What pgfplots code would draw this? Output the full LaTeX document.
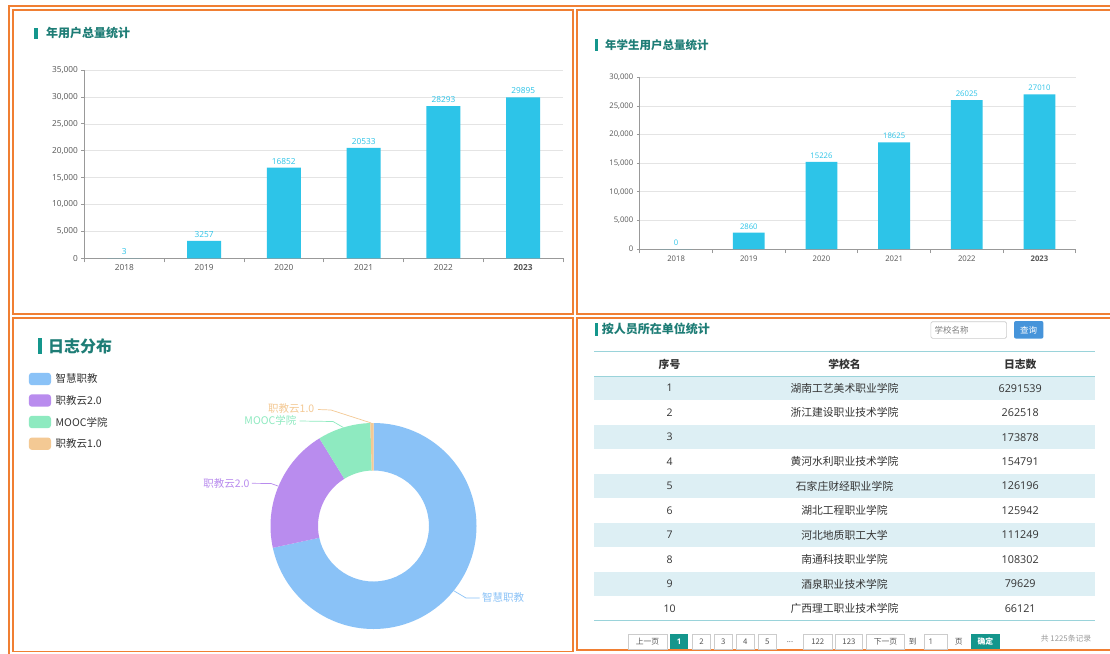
\documentclass[border=0pt]{standalone}
\usepackage{pgfplots}
\pgfplotsset{compat=1.18}
\usepackage{fontspec}
\setmainfont{Open Sans}
\newfontfamily\cjk{Noto Sans CJK SC}
\definecolor{framec}{HTML}{F07F33}
\definecolor{barc}{HTML}{2DC4E8}
\definecolor{tealbar}{HTML}{14968C}
\definecolor{titlec}{HTML}{1E7D76}
\definecolor{gridc}{HTML}{E4E4E4}
\definecolor{axisc}{HTML}{999999}
\definecolor{tickc}{HTML}{555555}
\definecolor{cA}{HTML}{8AC2F7}
\definecolor{cB}{HTML}{B98CEE}
\definecolor{cC}{HTML}{8EEAC0}
\definecolor{cD}{HTML}{F4C994}
\definecolor{rowc}{HTML}{DDEFF4}
\definecolor{linec}{HTML}{9AD3DA}
\definecolor{btnc}{HTML}{4694DA}
\definecolor{txtc}{HTML}{333333}
\definecolor{pagec}{HTML}{CCCCCC}
\newcommand\fs[1]{\fontsize{#1}{#1}\selectfont}

\pgfplotsset{
  barchart/.style 2 args={
    scale only axis, anchor=south west,
    ybar, bar width=#1,
    xmin=-0.5, xmax=5.5, ymin=0,
    xtick={0,...,5},
    xticklabels={2018,2019,2020,2021,2022,\textbf{2023}},
    minor xtick={-0.5,0.5,...,5.5},
    axis x line*=bottom, axis y line*=left,
    x axis line style={-}, y axis line style={-},
    axis line style={axisc, line width=0.8pt},
    tick align=outside,
    major tick length=3pt, minor tick length=4pt,
    major x tick style={draw=none},
    minor x tick style={axisc, line width=0.7pt},
    ytick style={axisc, line width=0.7pt},
    ymajorgrids, grid style={gridc, line width=0.6pt},
    scaled y ticks=false,
    /pgf/number format/assume math mode=true,
    tick label style={color=tickc, font=\fs{#2}},
    nodes near coords={\pgfmathprintnumber[1000 sep={}]{\pgfplotspointmeta}},
    every node near coord/.append style={color=barc, font=\fs{#2}},
  }
}

% donut values (percent)
\def\vA{71.6}\def\vB{19.6}\def\vC{8.3}\def\vD{0.5}

\begin{document}
\begin{tikzpicture}
\useasboundingbox (0pt,0pt) rectangle (1110pt,-653pt);
\fill[white] (0pt,0pt) rectangle (1110pt,-653pt);

% ---------- top-left bar chart ----------
\begin{axis}[barchart={34pt}{8.3}, at={(84.4pt,-258.3pt)},
  width=478.7pt, height=188.3pt, ymax=35000, ytick={0,5000,...,35000}]
\addplot[fill=barc, draw=none] coordinates {(0,3) (1,3257) (2,16852) (3,20533) (4,28293) (5,29895)};
\end{axis}

% ---------- top-right bar chart ----------
\begin{axis}[barchart={31.8pt}{7.7}, at={(639.8pt,-249pt)},
  width=436pt, height=171.7pt, ymax=30000, ytick={0,5000,...,30000}]
\addplot[fill=barc, draw=none] coordinates {(0,0) (1,2860) (2,15226) (3,18625) (4,26025) (5,27010)};
\end{axis}

% ---------- donut ----------
\pgfmathsetmacro\aA{90}
\pgfmathsetmacro\aB{\aA-3.6*\vA}
\pgfmathsetmacro\aC{\aB-3.6*\vB}
\pgfmathsetmacro\aD{\aC-3.6*\vC}
\pgfmathsetmacro\aE{\aD-3.6*\vD}
\begin{axis}[scale only axis, hide axis, anchor=center, at={(373.5pt,-526pt)},
  width=206pt, height=206pt, xmin=-1, xmax=1, ymin=-1, ymax=1]
\coordinate (dc) at (axis cs:0,0);
\fill[cA] ([shift={(\aA:103pt)}]dc) arc[start angle=\aA, end angle=\aB, radius=103pt]
   -- ([shift={(\aB:55.5pt)}]dc) arc[start angle=\aB, end angle=\aA, radius=55.5pt] -- cycle;
\fill[cB] ([shift={(\aB:103pt)}]dc) arc[start angle=\aB, end angle=\aC, radius=103pt]
   -- ([shift={(\aC:55.5pt)}]dc) arc[start angle=\aC, end angle=\aB, radius=55.5pt] -- cycle;
\fill[cC] ([shift={(\aC:103pt)}]dc) arc[start angle=\aC, end angle=\aD, radius=103pt]
   -- ([shift={(\aD:55.5pt)}]dc) arc[start angle=\aD, end angle=\aC, radius=55.5pt] -- cycle;
\fill[cD] ([shift={(\aD:103pt)}]dc) arc[start angle=\aD, end angle=\aE, radius=103pt]
   -- ([shift={(\aE:55.5pt)}]dc) arc[start angle=\aE, end angle=\aD, radius=55.5pt] -- cycle;
\end{axis}

\begin{scope}[x=1pt,y=-1pt]
% ---------- frames ----------
\draw[framec, line width=2.2pt] (9.3,670) -- (9.3,5.7) -- (1130,5.7);
\draw[framec, line width=1.8pt] (13.3,10) rectangle (573.3,314);
\draw[framec, line width=1.8pt] (577.3,10) rectangle (1130,314);
\draw[framec, line width=1.8pt] (13.3,318) rectangle (573.3,651.5);
\draw[framec, line width=1.8pt] (577.3,318) rectangle (1130,649.8);

% ---------- titles ----------
\fill[tealbar] (34.3,27.5) rectangle (37.5,39.3);
\node[anchor=west, text=titlec, font=\cjk\bfseries\fs{12}, inner sep=0] at (46,33) {年用户总量统计};
\fill[tealbar] (594.6,39.3) rectangle (597.8,51);
\node[anchor=west, text=titlec, font=\cjk\bfseries\fs{11.5}, inner sep=0] at (605,45) {年学生用户总量统计};
\fill[tealbar] (37.5,338) rectangle (41.5,354);
\node[anchor=west, text=titlec, font=\cjk\bfseries\fs{16}, inner sep=0] at (48,346.5) {日志分布};
\fill[tealbar] (594.6,322.5) rectangle (597.8,335.5);
\node[anchor=west, text=titlec, font=\cjk\bfseries\fs{12}, inner sep=0] at (601.6,329) {按人员所在单位统计};

% ---------- donut legend ----------
\foreach \c/\t/\y in {cA/智慧职教/379, cB/职教云2.0/400.5, cC/MOOC学院/422, cD/职教云1.0/443.7}{
  \fill[\c, rounded corners=3pt] (28.9,\y-6.2) rectangle (51,\y+6.2);
  \node[anchor=west, text=txtc, font=\cjk\fs{10.5}, inner sep=0] at (55.5,\y) {\t};
}
% ---------- donut labels ----------
\draw[cA, line width=0.7pt] (453.7,590.7) -- (466,598) -- (479.5,598);
\node[anchor=west, text=cA, font=\cjk\fs{10.5}, inner sep=0] at (482,598) {智慧职教};
\draw[cB, line width=0.7pt] (278,486) -- (271,483.5) -- (251.8,483.3);
\node[anchor=east, text=cB, font=\cjk\fs{10.5}, inner sep=0] at (249.7,483.3) {职教云2.0};
\draw[cC, line width=0.7pt] (343.4,427.5) -- (333,421.5) -- (299.7,421);
\node[anchor=east, text=cC, font=\cjk\fs{10.5}, inner sep=0] at (296.5,420.5) {MOOC学院};
\draw[cD, line width=0.7pt] (371.3,423) -- (331,410) -- (318,409.5);
\node[anchor=east, text=cD, font=\cjk\fs{10.5}, inner sep=0] at (314.5,409) {职教云1.0};

% ---------- search ----------
\draw[pagec, line width=0.6pt, fill=white, rounded corners=1.5pt] (930.9,321.7) rectangle (1006.6,338.3);
\node[anchor=west, text=gray, font=\cjk\fs{8.5}, inner sep=0] at (934.3,330) {学校名称};
\fill[btnc, rounded corners=2pt] (1014,321) rectangle (1043.4,338.6);
\node[text=white, font=\cjk\fs{8.5}, inner sep=0] at (1028.7,329.8) {查询};

% ---------- table ----------
\foreach \i in {1,3,5,7,9}{
  \fill[rowc] (594.4,{376+(\i-1)*24.47}) rectangle (1095.3,{376+\i*24.47});
}
\draw[linec, line width=1pt] (594.4,351.7) -- (1095.3,351.7);
\draw[linec, line width=1pt] (594.4,376) -- (1095.3,376);
\draw[linec, line width=1pt] (594.4,620.7) -- (1095.3,620.7);
\node[text=txtc, font=\cjk\bfseries\fs{10.8}, inner sep=0] at (669.5,364.3) {序号};
\node[text=txtc, font=\cjk\bfseries\fs{10.8}, inner sep=0] at (844.5,364.3) {学校名};
\node[text=txtc, font=\cjk\bfseries\fs{10.8}, inner sep=0] at (1020.2,364.3) {日志数};
\foreach \i/\s/\n in {1/湖南工艺美术职业学院/6291539, 2/浙江建设职业技术学院/262518, 3/{}/173878,
  4/黄河水利职业技术学院/154791, 5/石家庄财经职业学院/126196, 6/湖北工程职业学院/125942,
  7/河北地质职工大学/111249, 8/南通科技职业学院/108302, 9/酒泉职业技术学院/79629,
  10/广西理工职业技术学院/66121}{
  \node[text=txtc, font=\fs{10.5}, inner sep=0] at (669.5,{376+(\i-0.5)*24.47}) {\i};
  \node[text=txtc, font=\cjk\fs{10.8}, inner sep=0] at (844.5,{376+(\i-0.5)*24.47}) {\s};
  \node[text=txtc, font=\fs{10.8}, inner sep=0] at (1020.2,{376+(\i-0.5)*24.47}) {\n};
}

% ---------- pagination ----------
\foreach \a/\b/\t in {627.9/667.1/上一页, 692.7/710.4/2, 714.5/732.3/3, 736.4/754.1/4,
   758.2/776.3/5, 802.9/832.6/122, 835.3/862.6/123, 866.7/904.2/下一页}{
  \draw[pagec, line width=0.6pt] (\a,634.3) rectangle (\b,649.3);
  \node[text=tickc, font=\cjk\fs{7.8}, inner sep=0] at ({(\a+\b)/2},641.8) {\t};
}
\fill[tealbar] (669.8,634.3) rectangle (688.3,649.3);
\node[text=white, font=\bfseries\fs{7.8}, inner sep=0] at (679,641.8) {1};
\node[text=tickc, font=\fs{7.8}, inner sep=0] at (790,641.8) {...};
\node[text=tickc, font=\cjk\fs{7.8}, inner sep=0] at (912.8,641.8) {到};
\draw[pagec, line width=0.6pt] (924,634.3) rectangle (946.9,649.3);
\node[anchor=west, text=tickc, font=\fs{7.8}, inner sep=0] at (928.5,641.8) {1};
\node[text=tickc, font=\cjk\fs{7.8}, inner sep=0] at (958.8,641.8) {页};
\fill[tealbar] (970.8,634.3) rectangle (999.8,649.3);
\node[text=white, font=\cjk\bfseries\fs{7.8}, inner sep=0] at (985.3,641.8) {确定};
\node[anchor=west, text=gray!80, font=\cjk\fs{7.8}, inner sep=0] at (1040.7,639) {共 1225条记录};
\end{scope}
\end{tikzpicture}
\end{document}
